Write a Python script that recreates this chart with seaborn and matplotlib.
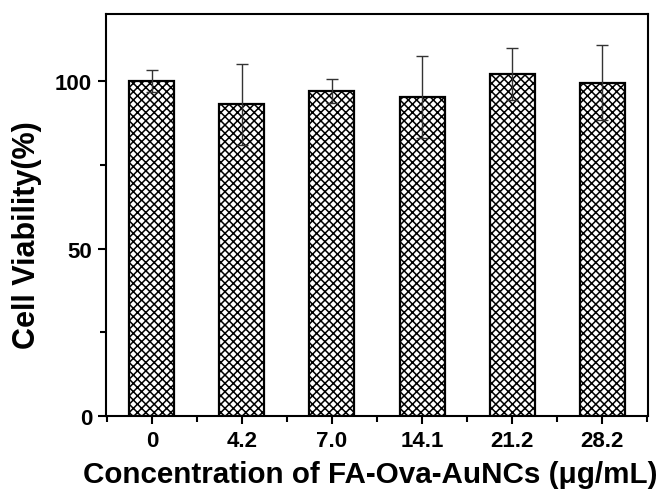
import matplotlib
matplotlib.use("Agg")
import matplotlib.pyplot as plt
import seaborn as sns
import pandas as pd
import numpy as np
from matplotlib.ticker import MultipleLocator, FixedLocator

categories = ["0", "4.2", "7.0", "14.1", "21.2", "28.2"]
viability = [100.0, 93.0, 97.0, 95.3, 102.2, 99.5]
errors = [3.3, 12.0, 3.7, 12.2, 7.8, 11.1]

sns.set_theme(style="ticks")
plt.rcParams['font.family'] = ['Liberation Sans', 'DejaVu Sans']
plt.rcParams['font.weight'] = 'bold'
plt.rcParams['hatch.linewidth'] = 1.1
plt.rcParams['hatch.color'] = 'black'
plt.rcParams['text.color'] = 'black'
plt.rcParams['axes.labelcolor'] = 'black'
plt.rcParams['xtick.color'] = 'black'
plt.rcParams['ytick.color'] = 'black'

df = pd.DataFrame({"conc": categories, "viab": viability})

fig = plt.figure(figsize=(6.67, 5.02), dpi=100)
ax = fig.add_axes([106/667, 1-417/502, (648-106)/667, (417-15)/502])

sns.barplot(data=df, x="conc", y="viab", order=categories, ax=ax,
            color="white", edgecolor="black", linewidth=1.6, width=0.5,
            errorbar=None, saturation=1)
for p in ax.patches:
    p.set_hatch("xxxx")
    p.set_facecolor("white")
    p.set_edgecolor("black")

ax.errorbar(np.arange(len(categories)), viability, yerr=errors, fmt="none",
            ecolor="#333333", elinewidth=1.0, capsize=4.5, capthick=1.0, zorder=5)

ax.set_xlim(-0.51, 5.51)
ax.set_ylim(0, 120)
ax.yaxis.set_major_locator(MultipleLocator(50))
ax.yaxis.set_minor_locator(MultipleLocator(25))
ax.xaxis.set_minor_locator(FixedLocator(np.arange(-0.5, 6, 1.0)))
ax.tick_params(axis="both", which="major", direction="out", length=6, width=1.5,
               labelsize=16, pad=4, colors="black")
ax.tick_params(axis="both", which="minor", direction="out", length=4, width=1.5,
               colors="black")
for lab in ax.get_xticklabels() + ax.get_yticklabels():
    lab.set_fontweight("bold")
for s in ax.spines.values():
    s.set_visible(True)
    s.set_linewidth(1.5)
    s.set_color("black")

ax.set_xlabel("Concentration of FA-Ova-AuNCs (\u03bcg/mL)", fontsize=21.3,
              fontweight="bold")
ax.set_ylabel("Cell Viability(%)", fontsize=22, fontweight="bold")
ax.xaxis.set_label_coords(0.487, -0.11)
ax.yaxis.set_label_coords(-0.118, 0.453)

fig.savefig("out.png", dpi=100)
